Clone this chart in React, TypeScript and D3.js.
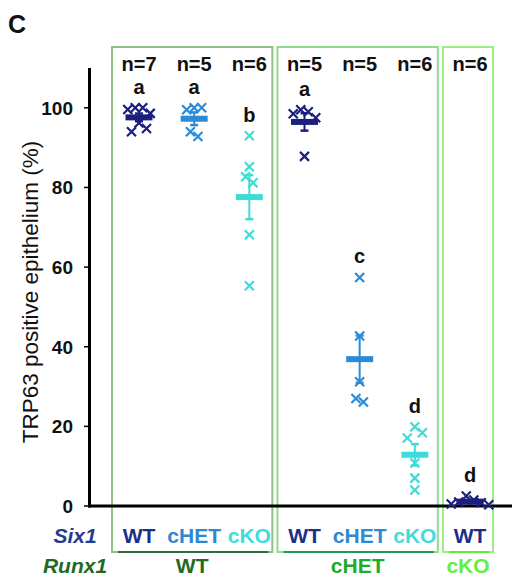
import React from "react";
import * as d3 from "d3";

// ---- data ----
const six1Genotypes = ["WT", "cHET", "cKO", "WT", "cHET", "cKO", "WT"];
const runx1Genotypes = ["WT", "WT", "WT", "cHET", "cHET", "cHET", "cKO"];
const runx1Groups = ["WT", "cHET", "cKO"];
const sigLetters = ["a", "a", "b", "a", "c", "d", "d"];

const runx1WT_six1WT = [100, 100, 99.6, 98.6, 96.2, 94.8, 94];
const runx1WT_six1cHET = [100, 100, 99.5, 94, 92.8];
const runx1WT_six1cKO = [93, 85.2, 82.7, 81.2, 68.1, 55.3];
const runx1cHET_six1WT = [99.5, 99, 98.5, 97.5, 87.8];
const runx1cHET_six1cHET = [57.4, 42.7, 31.2, 27, 26.1];
const runx1cHET_six1cKO = [19.9, 18.4, 17.1, 10.8, 7.0, 4.0];
const runx1cKO_six1WT = [2.5, 1.5, 1.0, 0.8, 0.5, 0.3];

const yTicks = [0, 20, 40, 60, 80, 100];

const series = [
  runx1WT_six1WT,
  runx1WT_six1cHET,
  runx1WT_six1cKO,
  runx1cHET_six1WT,
  runx1cHET_six1cHET,
  runx1cHET_six1cKO,
  runx1cKO_six1WT,
];

// ---- styles ----
const FONT = "'Liberation Sans', Arial, Helvetica, sans-serif";
const six1Color: Record<string, string> = {
  WT: "#1b1f7e",
  cHET: "#2b8bd6",
  cKO: "#3edcd6",
};
const six1TextColor: Record<string, string> = {
  WT: "#1c2f88",
  cHET: "#2f88d2",
  cKO: "#3fdcdc",
};
const runx1TextColor: Record<string, string> = {
  WT: "#1e6a1e",
  cHET: "#22aa2a",
  cKO: "#66ee3f",
};
const boxStroke: Record<string, string> = {
  WT: "#8fc184",
  cHET: "#8fdc8f",
  cKO: "#99f07f",
};
const underlineColor: Record<string, string> = {
  WT: "#2e6e2e",
  cHET: "#1f9a4c",
  cKO: "#5bef2a",
};

const W = 512;
const H = 580;

export default function App() {
  const idx = six1Genotypes.map((_, i) => i);
  const x = d3.scalePoint<number>().domain(idx).range([139, 470]);
  const y = d3.scaleLinear().domain([0, 110]).range([506, 68]);

  const boxTop = 47;
  const boxBottom = 552;

  const groupBoxes = runx1Groups.map((g) => {
    const members = idx.filter((i) => runx1Genotypes[i] === g);
    const first = x(members[0])!;
    const last = x(members[members.length - 1])!;
    return { g, left: first - 27, right: last + 23, members };
  });

  // horizontal spread for overlapping points (alternating around the centre)
  const pointOffsets = (vals: number[]) => {
    const order = vals.map((v, i) => ({ v, i })).sort((a, b) => b.v - a.v);
    const offs = new Array(vals.length).fill(0);
    let cluster: { v: number; i: number }[] = [];
    const flush = () => {
      const raw = cluster.map((_, j) => (j % 2 === 1 ? 1 : -1) * Math.ceil(j / 2) * 7.5);
      const m = d3.mean(raw) || 0;
      cluster.forEach((p, j) => {
        offs[p.i] = raw[j] - m;
      });
      cluster = [];
    };
    order.forEach((p) => {
      if (cluster.length && Math.abs(y(cluster[cluster.length - 1].v) - y(p.v)) > 6) flush();
      cluster.push(p);
    });
    flush();
    return offs;
  };

  const cross = (cx: number, cy: number, s: number) =>
    `M${cx - s},${cy - s}L${cx + s},${cy + s}M${cx - s},${cy + s}L${cx + s},${cy - s}`;

  return (
    <svg
      width={W}
      height={H}
      style={{ position: "absolute", left: 0, top: 0, background: "#fff" }}
      fontFamily={FONT}
    >
      <rect x={0} y={0} width={W} height={H} fill="#fff" />
      {/* panel letter */}
      <text x={8} y={33} fontSize={25} fontWeight="bold" fill="#111">
        C
      </text>

      {/* group boxes */}
      {groupBoxes.map((b) => (
        <g key={b.g}>
          <rect
            x={b.left}
            y={boxTop}
            width={b.right - b.left}
            height={boxBottom - boxTop}
            fill="none"
            stroke={boxStroke[b.g]}
            strokeWidth={2}
          />
          <line
            x1={b.left + 6}
            x2={b.right - 4}
            y1={boxBottom}
            y2={boxBottom}
            stroke={underlineColor[b.g]}
            strokeWidth={2}
          />
        </g>
      ))}

      {/* y axis */}
      <line x1={89.5} x2={89.5} y1={y(110)} y2={y(0) + 1.5} stroke="#000" strokeWidth={3} />
      {yTicks.map((t) => (
        <g key={t}>
          <line x1={84} x2={89} y1={y(t)} y2={y(t)} stroke="#000" strokeWidth={1.5} />
          <text
            x={73}
            y={y(t)}
            dy="0.36em"
            textAnchor="end"
            fontSize={19}
            fontWeight="bold"
            fill="#111"
          >
            {t}
          </text>
        </g>
      ))}
      <text
        transform={`translate(38,292) rotate(-90)`}
        textAnchor="middle"
        fontSize={22.5}
        fill="#111"
      >
        TRP63 positive epithelium (%)
      </text>

      {/* x axis */}
      <line x1={88} x2={W} y1={y(0)} y2={y(0)} stroke="#000" strokeWidth={3} />

      {/* n labels and letters */}
      {idx.map((i) => {
        const vals = series[i];
        const cx = x(i)!;
        return (
          <g key={"lab" + i}>
            <text x={cx} y={71} textAnchor="middle" fontSize={20} fontWeight="bold" fill="#111">
              {`n=${vals.length}`}
            </text>
            <text
              x={cx}
              y={y(d3.max(vals)!) - 14}
              textAnchor="middle"
              fontSize={20}
              fontWeight="bold"
              fill="#111"
            >
              {sigLetters[i]}
            </text>
          </g>
        );
      })}

      {/* data */}
      {idx.map((i) => {
        const vals = series[i];
        const cx = x(i)!;
        const color = six1Color[six1Genotypes[i]];
        const mean = d3.mean(vals)!;
        const sem = d3.deviation(vals)! / Math.sqrt(vals.length);
        const offs = pointOffsets(vals);
        return (
          <g key={"d" + i}>
            <line x1={cx} x2={cx} y1={y(mean + sem)} y2={y(mean - sem)} stroke={color} strokeWidth={2} />
            <line x1={cx - 4} x2={cx + 4} y1={y(mean + sem)} y2={y(mean + sem)} stroke={color} strokeWidth={2.5} />
            <line x1={cx - 4} x2={cx + 4} y1={y(mean - sem)} y2={y(mean - sem)} stroke={color} strokeWidth={2.5} />
            <rect x={cx - 13.5} y={y(mean) - 3} width={27} height={6} fill={color} />
            {vals.map((v, j) => (
              <path
                key={j}
                d={cross(cx + offs[j], y(v), 4.5)}
                stroke={color}
                strokeWidth={2.2}
                fill="none"
              />
            ))}
          </g>
        );
      })}

      {/* Six1 row */}
      <text x={75} y={543} textAnchor="middle" fontSize={21} fontWeight="bold" fontStyle="italic" fill="#1f3c99">
        Six1
      </text>
      {idx.map((i) => (
        <text
          key={"s" + i}
          x={x(i)!}
          y={543}
          textAnchor="middle"
          fontSize={21}
          fontWeight="bold"
          fill={six1TextColor[six1Genotypes[i]]}
        >
          {six1Genotypes[i]}
        </text>
      ))}

      {/* Runx1 row */}
      <text x={75} y={573} textAnchor="middle" fontSize={21} fontWeight="bold" fontStyle="italic" fill="#1e6a1e">
        Runx1
      </text>
      {groupBoxes.map((b) => (
        <text
          key={"r" + b.g}
          x={(b.left + b.right) / 2}
          y={573}
          textAnchor="middle"
          fontSize={21}
          fontWeight="bold"
          fill={runx1TextColor[b.g]}
        >
          {b.g}
        </text>
      ))}
    </svg>
  );
}
